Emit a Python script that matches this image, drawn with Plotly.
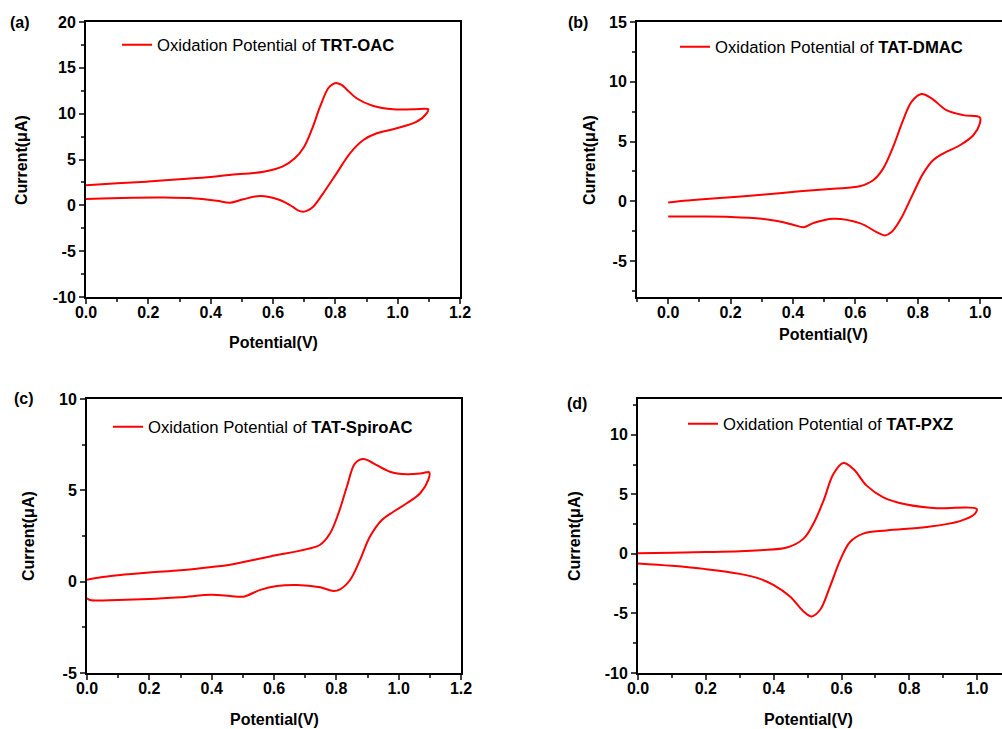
import plotly.graph_objects as go

# ---- cyclic voltammetry data: potential (V) vs current (uA) ----
trt_oac_v = [0.00, 0.10, 0.20, 0.30, 0.40, 0.46, 0.57, 0.63, 0.67, 0.70, 0.724, 0.751, 0.777, 0.791,
             0.806, 0.820, 0.835, 0.868, 0.922, 0.986, 1.05, 1.098,
             1.093, 1.061, 0.997, 0.933, 0.890, 0.847, 0.804, 0.761, 0.729, 0.710, 0.697, 0.680,
             0.665, 0.622, 0.558, 0.505, 0.462, 0.42, 0.35, 0.25, 0.15, 0.05, 0.00]
trt_oac_i = [2.2, 2.4, 2.6, 2.85, 3.1, 3.31, 3.67, 4.22, 5.13, 6.40, 8.22, 10.76, 12.77, 13.2,
             13.33, 13.13, 12.7, 11.68, 10.84, 10.47, 10.47, 10.47,
             10.04, 9.13, 8.40, 7.86, 7.13, 5.68, 3.49, 1.31, -0.15, -0.58, -0.69, -0.55,
             -0.2, 0.58, 1.02, 0.66, 0.29, 0.5, 0.75, 0.85, 0.83, 0.75, 0.7]

tat_dmac_v = [0.00, 0.05, 0.10, 0.20, 0.30, 0.422, 0.529, 0.614, 0.657, 0.689, 0.721, 0.753, 0.780,
              0.812, 0.844, 0.892, 0.946, 0.999,
              0.999, 0.978, 0.935, 0.881, 0.849, 0.817, 0.785, 0.743, 0.716, 0.695, 0.668, 0.614,
              0.529, 0.465, 0.435, 0.40, 0.35, 0.30, 0.20, 0.10, 0.00]
tat_dmac_i = [-0.1, 0.05, 0.15, 0.35, 0.55, 0.84, 1.06, 1.26, 1.76, 2.74, 4.55, 6.79, 8.32,
              8.97, 8.61, 7.63, 7.21, 7.02,
              6.51, 5.53, 4.69, 4.0, 3.44, 2.32, 0.65, -1.59, -2.57, -2.85, -2.57, -1.82,
              -1.45, -1.82, -2.17, -1.95, -1.65, -1.45, -1.3, -1.27, -1.27]

tat_spiroac_v = [0.00, 0.05, 0.10, 0.20, 0.30, 0.40, 0.459, 0.588, 0.705, 0.748, 0.780, 0.807, 0.834,
                 0.860, 0.887, 0.919, 0.972, 1.026, 1.074, 1.098,
                 1.095, 1.069, 1.026, 0.983, 0.946, 0.908, 0.876, 0.844, 0.812, 0.791, 0.748, 0.673,
                 0.609, 0.556, 0.502, 0.459, 0.40, 0.30, 0.20, 0.10, 0.01, 0.00]
tat_spiroac_i = [0.1, 0.25, 0.35, 0.5, 0.62, 0.8, 0.93, 1.38, 1.78, 2.02, 2.65, 3.75, 5.21,
                 6.48, 6.72, 6.48, 6.02, 5.88, 5.93, 5.99,
                 5.57, 4.84, 4.29, 3.83, 3.38, 2.47, 1.19, 0.09, -0.42, -0.51, -0.31, -0.18,
                 -0.24, -0.45, -0.82, -0.78, -0.72, -0.85, -0.95, -1.0, -1.0, -0.9]

tat_pxz_v = [0.00, 0.10, 0.20, 0.30, 0.36, 0.439, 0.488, 0.517, 0.547, 0.576, 0.605, 0.635, 0.674,
             0.723, 0.792, 0.880, 0.998,
             0.993, 0.949, 0.851, 0.733, 0.664, 0.625, 0.596, 0.566, 0.537, 0.512, 0.488, 0.448,
             0.399, 0.360, 0.30, 0.20, 0.10, 0.00]
tat_pxz_i = [0.05, 0.1, 0.15, 0.22, 0.31, 0.53, 1.28, 2.53, 4.47, 6.70, 7.62, 7.12, 5.73,
             4.75, 4.14, 3.83, 3.78,
             3.36, 2.75, 2.25, 1.97, 1.70, 1.0, -0.53, -2.75, -4.69, -5.25, -4.83, -3.58,
             -2.61, -2.1, -1.68, -1.28, -1.0, -0.8]

compounds = ["TRT-OAC", "TAT-DMAC", "TAT-SpiroAC", "TAT-PXZ"]
panel_tags = ["(a)", "(b)", "(c)", "(d)"]
x_title = "Potential(V)"
y_title = "Current(\u03bcA)"

# tick values for each panel
x_ticks_wide = [0.0, 0.2, 0.4, 0.6, 0.8, 1.0, 1.2]
x_ticks_narrow = [0.0, 0.2, 0.4, 0.6, 0.8, 1.0]
y_ticks_a = [-10, -5, 0, 5, 10, 15, 20]
y_ticks_b = [-5, 0, 5, 10, 15]
y_ticks_c = [-5, 0, 5, 10]
y_ticks_d = [-10, -5, 0, 5, 10]

# ---- page geometry (pixels) ----
W, H = 1002, 729
FONT = "Liberation Sans"
RED = "#ff0000"


def px_x(p):
    return p / W


def px_y(p):
    return 1 - p / H


panels = [
    dict(v=trt_oac_v, i=trt_oac_i, xd=(86, 460), yd=(22, 297), xr=[0, 1.2], yr=[-10, 20],
         xt_vals=x_ticks_wide, yt_vals=y_ticks_a,
         right=True, tag=(20, 22), xt=(273, 342), yt=(22, 160), leg=(117, 45)),
    dict(v=tat_dmac_v, i=tat_dmac_i, xd=(637, 1002), yd=(22, 297), xr=[-0.1, 1.07], yr=[-8, 15],
         xt_vals=x_ticks_narrow, yt_vals=y_ticks_b,
         right=False, tag=(578, 22), xt=(823, 334), yt=(590, 160), leg=(675, 47)),
    dict(v=tat_spiroac_v, i=tat_spiroac_i, xd=(87, 461), yd=(399, 673), xr=[0, 1.2], yr=[-5, 10],
         xt_vals=x_ticks_wide, yt_vals=y_ticks_c,
         right=True, tag=(24, 399), xt=(274, 719), yt=(28, 536), leg=(108, 427)),
    dict(v=tat_pxz_v, i=tat_pxz_i, xd=(638, 1002), yd=(399, 673), xr=[0, 1.073], yr=[-10, 13],
         xt_vals=x_ticks_narrow, yt_vals=y_ticks_d,
         right=False, tag=(577, 403), xt=(808, 719), yt=(574, 536), leg=(683, 424)),
]

fig = go.Figure()
layout = dict(width=W, height=H, margin=dict(l=0, r=0, t=0, b=0, autoexpand=False),
              paper_bgcolor="white", plot_bgcolor="white",
              font=dict(family=FONT, color="black"), annotations=[])

tick_font = dict(family=FONT, size=16, color="black", weight="bold")

for k, p in enumerate(panels):
    n = k + 1
    sfx = "" if n == 1 else str(n)
    leg_name = "legend" if n == 1 else f"legend{n}"

    fig.add_trace(go.Scatter(
        x=p["v"], y=p["i"], mode="lines",
        line=dict(color=RED, width=2, shape="spline", smoothing=1.0),
        name=f"Oxidation Potential of <b>{compounds[k]}</b>",
        xaxis=f"x{sfx}", yaxis=f"y{sfx}", legend=leg_name, showlegend=True,
    ))

    xdom = [px_x(p["xd"][0]), px_x(p["xd"][1])]
    ydom = [px_y(p["yd"][1]), px_y(p["yd"][0])]

    layout[f"xaxis{sfx}"] = dict(
        domain=xdom, range=p["xr"], anchor=f"y{sfx}", automargin=False,
        tickmode="array", tickvals=p["xt_vals"], ticktext=[f"{v:.1f}" for v in p["xt_vals"]],
        ticks="outside", ticklen=5, tickwidth=1.5,
        minor=dict(ticks="outside", ticklen=3, tickwidth=1.5, dtick=0.1, tick0=0, showgrid=False),
        showline=True, linewidth=2, linecolor="black", mirror=True,
        showgrid=False, zeroline=False, tickfont=tick_font, ticklabelstandoff=-5,
    )
    layout[f"yaxis{sfx}"] = dict(
        domain=ydom, range=p["yr"], anchor=f"x{sfx}", automargin=False,
        tickmode="array", tickvals=p["yt_vals"], ticktext=[str(v) for v in p["yt_vals"]],
        ticks="outside", ticklen=5, tickwidth=1.5,
        minor=dict(ticks="outside", ticklen=3, tickwidth=1.5, dtick=2.5, tick0=0, showgrid=False),
        showline=True, linewidth=2, linecolor="black", mirror=True,
        showgrid=False, zeroline=False, tickfont=tick_font,
    )

    # inward ticks along the top frame
    top_id = 4 + n
    layout[f"xaxis{top_id}"] = dict(
        overlaying=f"x{sfx}", anchor=f"y{sfx}", side="top", range=p["xr"], automargin=False,
        tick0=0, dtick=0.2, ticks="inside", ticklen=4, tickwidth=1.2,
        minor=dict(ticks="inside", ticklen=2, tickwidth=1.2, dtick=0.1, tick0=0, showgrid=False),
        showticklabels=False, showline=False, showgrid=False, zeroline=False,
    )
    # inward ticks along the right frame
    if p["right"]:
        right_id = 4 + n
        layout[f"yaxis{right_id}"] = dict(
            overlaying=f"y{sfx}", anchor=f"x{sfx}", side="right", range=p["yr"], automargin=False,
            tick0=0, dtick=5, ticks="inside", ticklen=4, tickwidth=1.2,
            minor=dict(ticks="inside", ticklen=2, tickwidth=1.2, dtick=2.5, tick0=0, showgrid=False),
            showticklabels=False, showline=False, showgrid=False, zeroline=False,
        )

    layout[leg_name] = dict(
        x=px_x(p["leg"][0]), y=px_y(p["leg"][1]), xanchor="left", yanchor="middle",
        bgcolor="rgba(0,0,0,0)", borderwidth=0, itemwidth=30,
        font=dict(family=FONT, size=16.7, color="black"),
    )

    layout["annotations"] += [
        dict(text=f"<b>{panel_tags[k]}</b>", x=px_x(p["tag"][0]), y=px_y(p["tag"][1]),
             xref="paper", yref="paper", showarrow=False, xanchor="center", yanchor="middle",
             font=dict(family=FONT, size=16, color="black")),
        dict(text=f"<b>{x_title}</b>", x=px_x(p["xt"][0]), y=px_y(p["xt"][1]),
             xref="paper", yref="paper", showarrow=False, xanchor="center", yanchor="middle",
             font=dict(family=FONT, size=16, color="black")),
        dict(text=f"<b>{y_title}</b>", x=px_x(p["yt"][0]), y=px_y(p["yt"][1]),
             xref="paper", yref="paper", showarrow=False, xanchor="center", yanchor="middle",
             textangle=-90, font=dict(family=FONT, size=16, color="black")),
    ]

fig.update_layout(**layout)
fig.write_html("out.html")
